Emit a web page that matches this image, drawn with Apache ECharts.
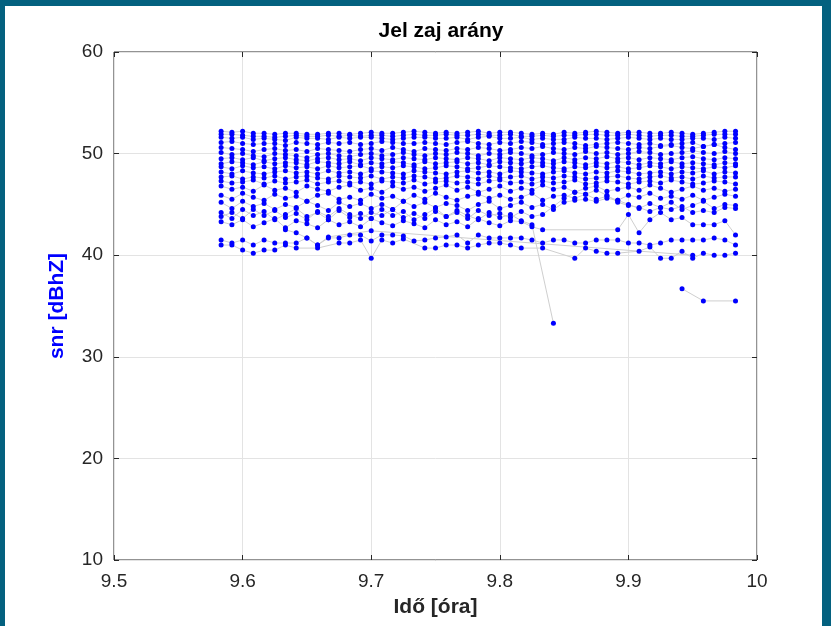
<!DOCTYPE html>
<html>
<head>
<meta charset="utf-8">
<script src="https://cdn.jsdelivr.net/npm/echarts@6/dist/echarts.min.js"></script>
<style>
html,body{margin:0;padding:0;background:#04617f;}
#frame{position:absolute;left:5px;top:6px;width:817px;height:620px;background:#ffffff;}
#chart{position:absolute;left:0;top:0;width:831px;height:626px;}
</style>
</head>
<body>
<div id="frame"></div>
<div id="chart"></div>
<script>
// time of each epoch [hours]
var times = [9.5833,9.5917,9.6000,9.6083,9.6167,9.6250,9.6333,9.6417,9.6500,9.6583,9.6667,9.6750,9.6833,9.6917,9.7000,9.7083,9.7167,9.7250,9.7333,9.7417,9.7500,9.7583,9.7667,9.7750,9.7833,9.7917,9.8000,9.8083,9.8167,9.8250,9.8333,9.8417,9.8500,9.8583,9.8667,9.8750,9.8833,9.8917,9.9000,9.9083,9.9167,9.9250,9.9333,9.9417,9.9500,9.9583,9.9667,9.9750,9.9833];

// SNR per satellite [dBHz], one value per epoch (null = not tracked)
var satA = [52.2,52.1,52.2,52.0,52.0,51.9,52.0, 52.0,51.9,51.9,52.0,52.0,51.9,52.0, 52.1,52.0,52.0,52.1,52.2,52.1,52.0, 52.1,52.0,52.1,52.2,52.0,52.1,52.1, 52.0,51.9,52.0,51.9,52.1,52.0,52.1, 52.2,52.1,52.0,52.1,52.1,52.0,52.0, 52.1,52.0,51.9,52.0,52.1,52.2,52.2];
var satB = [51.9,51.9,51.8,51.7,51.7,51.6,51.7, 51.8,51.7,51.7,51.8,51.7,51.8,51.7, 51.8,51.8,51.7,51.8,51.9,51.8,51.8, 51.9,51.8,51.8,51.9,51.8,51.8,51.9, 51.7,51.7,51.8,51.7,51.8,51.8,51.9, 51.9,51.8,51.8,51.9,51.8,51.7,51.8, 51.8,51.7,51.7,51.8,51.9,51.9,51.9];
var satC = [51.6,51.5,51.6,51.4,51.5,51.4,51.3, 51.6,51.5,51.5,51.4,51.6,51.5,51.6, 51.6,51.5,51.4,51.5,51.6,51.6,51.5, 51.5,51.6,51.4,51.6,51.7,51.5,51.5, 51.6,51.4,51.5,51.4,51.4,51.6,51.5, 51.5,51.4,51.5,51.6,51.5,51.4,51.5, 51.4,51.4,51.5,51.5,51.4,51.6,51.5];
var satD = [51.1,51.2,51.0,50.9,51.0,51.0,50.8, 51.1,51.0,50.9,51.1,51.0,51.1,50.9, 51.0,51.2,51.1,51.0,51.0,51.1,51.0, 50.9,51.1,51.2,51.0,50.9,51.1,51.0, 51.2,51.1,50.9,51.0,51.1,51.0,50.8, 50.9,51.0,51.1,51.0,50.9,51.0,50.8, 50.9,51.0,51.1,50.7,50.9,51.0,51.1];
var satE = [50.6,50.5,50.4,50.2,50.4,50.5,50.3, 50.4,50.2,50.5,50.4,50.3,50.2,50.4, 50.5,50.3,50.6,50.4,50.2,50.5,50.4, 50.3,50.5,50.4,50.6,50.5,50.3,50.4, 50.6,50.5,50.7,50.5,50.4,50.6,50.5, 50.7,50.6,50.5,50.4,50.6,50.5,50.7, 50.8,50.6,50.5,50.7,50.9,50.6,50.4];
var satF = [50.1,49.9,50.0,49.8,49.7,50.0,49.9, 49.8,49.6,49.9,50.0,49.8,49.7,49.9, 50.0,49.8,49.9,50.1,49.9,49.8,50.0, 49.9,50.1,50.0,49.8,50.0,49.9,50.1, 50.0,49.8,49.9,50.1,50.0,49.9,50.2, 50.0,50.1,49.9,50.0,50.2,50.1,49.9, 50.0,50.1,50.3,50.1,50.0,50.2,50.0];
var satG = [49.5,49.6,49.4,49.6,49.3,49.5,49.6, 49.4,49.3,49.5,49.6,49.4,49.5,49.3, 49.6,49.5,49.4,49.6,49.5,49.4,49.6, 49.5,49.4,49.6,49.5,49.3,49.6,49.5, 49.4,49.6,49.5,49.3,49.6,49.4,49.6, 49.5,49.7,49.5,49.6,49.4,49.6,49.5, 49.4,49.6,49.7,49.5,49.4,49.6,49.5];
var satH = [49.0,49.2,49.1,48.9,49.2,49.0,49.1, 49.1,48.9,49.2,49.1,49.0,49.2,48.9, 49.1,49.0,49.2,49.1,48.9,49.2,49.0, 49.1,49.2,49.0,49.1,48.9,49.2,49.1, 49.0,49.2,49.1,49.0,49.2,49.1,48.9, 49.1,49.0,49.2,49.1,48.9,49.1,49.0, 49.2,49.0,49.1,49.0,48.9,49.1,49.0];
var satI = [48.7,48.5,48.8,48.6,48.7,48.5,48.8, 48.6,48.7,48.5,48.8,48.6,48.7,48.8, 48.5,48.7,48.6,48.8,48.7,48.5,48.6, 48.8,48.7,48.5,48.6,48.8,48.7,48.6, 48.5,48.7,48.8,48.6,48.5,48.7,48.6, 48.8,48.6,48.7,48.5,48.6,48.8,48.7, 48.5,48.7,48.6,48.5,48.7,48.6,48.8];
var satJ = [48.2,48.0,48.3,48.1,48.0,48.2,48.3, 48.1,48.2,48.0,48.3,48.1,48.2,48.0, 48.3,48.2,48.1,48.0,48.3,48.2,48.1, 48.0,48.2,48.3,48.1,48.2,48.0,48.3, 48.2,48.1,48.0,48.2,48.3,48.1,48.0, 48.2,48.1,48.3,48.2,48.0,48.1,48.2, 48.0,48.2,48.1,48.3,48.0,48.2,48.1];
var satK = [47.7,47.8,47.5,47.7,47.6,47.8,47.5, 47.7,47.8,47.6,47.5,47.8,47.7,47.6, 47.8,47.5,47.7,47.6,47.8,47.7,47.5, 47.6,47.8,47.7,47.5,47.8,47.6,47.7, 47.8,47.5,47.7,47.6,47.8,47.7,47.5, 47.6,47.7,47.8,47.6,47.5,47.7,47.8, 47.6,47.7,47.5,47.8,47.6,47.7,47.7];
var satL = [47.3,47.1,47.2,47.4,47.0,47.3,47.1, 47.2,47.4,47.0,47.2,47.3,47.1,47.2, 47.0,47.3,47.2,47.1,47.4,47.0,47.2, 47.3,47.1,47.2,47.0,47.3,47.4,47.1, 47.2,47.0,47.3,47.1,47.2,47.4,47.0, 47.1,47.3,47.2,47.0,47.2,47.3,47.1, 47.4,47.2,47.0,47.1,47.3,47.2,47.0];
var satM = [46.8,46.5,46.7,46.3,46.9,46.4,46.6, 46.2,46.8,46.5,46.3,46.7,46.9,46.4, 46.6,46.2,46.8,46.5,46.7,46.3,46.6, 46.9,46.4,46.7,46.2,46.5,46.8,46.3, 46.6,46.4,46.9,46.5,46.7,46.2,46.6, 46.8,46.3,46.5,46.7,46.4,46.9,46.6, 46.2,46.5,46.8,46.4,46.6,46.3,46.5];
var satN = [45.9,45.5,46.1,45.7,45.4,46.0,45.6, 45.8,45.3,45.9,46.1,45.5,45.7,45.4, 46.0,45.6,45.8,45.3,45.9,45.5,46.1, 45.7,45.4,45.8,46.0,45.6,45.9,45.5, 45.7,46.1,45.4,45.8,45.9,45.6,46.0, 45.5,45.8,45.4,45.9,45.7,46.1,45.6, 45.8,45.5,45.9,45.4,45.7,46.0,45.8];
var satO = [45.2,44.6,45.3,44.8,45.1,44.5,45.0, 44.7,45.3,44.9,44.4,45.2,44.8,45.1, 44.6,45.0,44.5,45.3,44.8,45.2,44.7, 45.1,44.9,44.4,45.0,45.3,44.6,44.9, 45.2,44.7,45.0,44.5,45.2,45.4,45.5, 45.3,45.6,45.4,45.0,44.6,45.1,44.7, 45.2,44.5,44.9,45.3,44.6,45.0,44.9];
var satP = [44.2,43.6,44.5,43.9,44.3,43.5,44.0, 44.6,43.8,44.2,43.5,44.4,43.7,44.1, 43.6,44.5,43.9,44.3,43.5,44.0,44.6, 43.8,44.2,43.6,44.4,43.9,44.1,43.7, 44.3,43.8,44.0,44.8,45.6,46.2,46.0, 46.4,45.9,45.2,44.9,44.7,44.3,44.7, 44.5,44.8,44.2,44.4,44.2,44.7,44.6];
var satQ = [43.3,43.0,43.5,42.8,43.2,43.6,42.7, 43.4,43.1,42.7,43.5,43.0,43.3,42.8, 43.6,43.2,42.9,43.4,43.1,42.7,43.5, 43.0,43.3,42.8,43.6,43.2,42.9,43.4, 43.3,42.8,42.5,null,null,null,null, null,null,42.5,44.0,42.2,43.5,44.2, 43.5,43.7,43.0,43.0,43.0,43.4,42.0];
var satX = [43.8,44.2,43.6,44.5,43.9,44.4,43.7, 44.1,43.5,44.3,43.8,44.6,44.0,43.6, 44.2,43.9,44.5,43.7,44.1,43.6,44.3, 43.8,44.4,43.9,43.5,44.2,43.7,44.0, 43.4,43.0,null,33.3,null,null,null, null,null,null,null,null,null,null, null,null,null,null,null,null,null];
var satT = [41.5,41.2,41.5,41.0,41.5,41.2,41.2, 41.2,41.7,41.0,41.7,41.7,42.0,42.0, 41.4,42.0,42.0,41.9,41.4,41.5,41.7, 41.8,42.0,41.2,42.0,41.7,41.7,41.7, 41.7,41.5,41.2,41.5,41.5,41.2,41.2, 41.5,41.5,41.5,41.2,41.2,41.0,41.2, 41.5,41.5,41.5,41.5,41.7,41.5,41.0];
var satU = [41.0,41.0,40.5,40.2,40.5,40.5,41.0, 40.7,null,40.7,null,41.2,41.2,41.5, 39.7,41.5,41.2,41.6,null,40.7,40.7, 41.0,41.0,40.7,41.0,41.2,41.2,41.0, 40.7,null,40.7,null,null,39.7,40.7, 40.4,40.2,40.2,null,40.4,40.8,39.7, 39.7,40.4,39.7,40.2,40.0,40.0,40.2];
var satW = [null,null,null,null,null,null,42.5, 42.2,41.7,41.0,41.8,null,null,null, 42.4,null,null,null,null,null,null, null,null,null,null,null,null,null, null,null,null,null,null,null,null, null,null,null,null,null,null,null, null,null,40.0,null,null,null,null];
var satY = [null,null,null,null,null,null,null, null,null,null,null,null,null,null, null,null,null,null,null,null,null, null,null,null,null,null,null,null, null,null,null,null,null,null,null, null,null,null,null,null,null,null, null,36.7,null,35.5,null,null,35.5];

var satellites = [satA,satB,satC,satD,satE,satF,satG,satH,satI,satJ,satK,satL,satM,satN,satO,satP,satQ,satX,satT,satU,satW,satY];

var xTicks = [9.5,9.6,9.7,9.8,9.9,10];
var yTicks = [10,20,30,40,50,60];

function pairs(vals){
  var out = [];
  for (var i = 0; i < vals.length; i++) {
    if (vals[i] !== null) out.push([times[i], vals[i]]);
  }
  return out;
}

var series = [];
satellites.forEach(function(s){
  series.push({type:'line', data:pairs(s), symbol:'none', z:2, silent:true, animation:false,
    lineStyle:{color:'#cfcfcf', width:1}});
});
satellites.forEach(function(s){
  series.push({type:'scatter', data:pairs(s), symbol:'circle', symbolSize:5, z:3, animation:false,
    itemStyle:{color:'#0000ff', opacity:1}});
});

var tickFont = {fontFamily:'Liberation Sans', fontSize:19, color:'#262626'};
var chart = echarts.init(document.getElementById('chart'), null, {renderer:'canvas'});
chart.setOption({
  backgroundColor:'transparent',
  animation:false,
  title:{text:'Jel zaj arány', left:436, top:16, textAlign:'center',
    textStyle:{fontFamily:'Liberation Sans', fontSize:21, fontWeight:'bold', color:'#000'}},
  grid:{left:114, top:52, width:643, height:508, show:true, borderColor:'#262626', borderWidth:1, backgroundColor:'#ffffff'},
  xAxis:[{type:'value', min:xTicks[0], max:xTicks[xTicks.length-1], interval:0.1, position:'bottom',
      axisLine:{show:false}, axisTick:{show:true, inside:true, length:5, lineStyle:{color:'#262626'}},
      axisLabel:Object.assign({margin:12, formatter:function(v){return String(Math.round(v*10)/10);}}, tickFont),
      splitLine:{show:true, lineStyle:{color:'#e3e3e3', width:1}},
      name:'Idő [óra]', nameLocation:'middle', nameGap:37,
      nameTextStyle:{fontFamily:'Liberation Sans', fontSize:21, fontWeight:'bold', color:'#262626'}},
    {type:'value', min:xTicks[0], max:xTicks[xTicks.length-1], interval:0.1, position:'top',
      axisLine:{show:false}, axisTick:{show:true, inside:true, length:5, lineStyle:{color:'#262626'}},
      axisLabel:{show:false}, splitLine:{show:false}}],
  yAxis:[{type:'value', min:yTicks[0], max:yTicks[yTicks.length-1], interval:10, position:'left',
      axisLine:{show:false}, axisTick:{show:true, inside:true, length:5, lineStyle:{color:'#262626'}},
      axisLabel:Object.assign({margin:11}, tickFont),
      splitLine:{show:true, lineStyle:{color:'#e3e3e3', width:1}},
      name:'snr [dBhZ]', nameLocation:'middle', nameGap:46, nameRotate:90,
      nameTextStyle:{fontFamily:'Liberation Sans', fontSize:21, fontWeight:'bold', color:'#0000ff'}},
    {type:'value', min:yTicks[0], max:yTicks[yTicks.length-1], interval:10, position:'right',
      axisLine:{show:false}, axisTick:{show:true, inside:true, length:5, lineStyle:{color:'#262626'}},
      axisLabel:{show:false}, splitLine:{show:false}}],
  series:series
});
</script>
</body>
</html>
